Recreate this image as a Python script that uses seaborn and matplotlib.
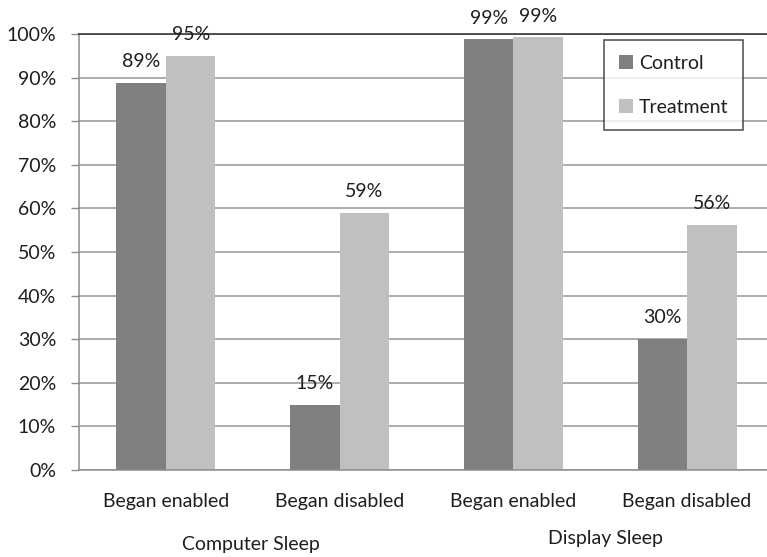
import matplotlib
matplotlib.use("Agg")
import matplotlib.pyplot as plt
import pandas as pd
import seaborn as sns
from matplotlib.ticker import FixedLocator
from matplotlib.transforms import blended_transform_factory

# Power-setting outcomes by starting state and study arm (share of machines)
settings = ["Computer Sleep", "Computer Sleep", "Display Sleep", "Display Sleep"]
conditions = ["Began enabled", "Began disabled", "Began enabled", "Began disabled"]
arms = ["Control", "Treatment"]
control = [88.8, 15.0, 98.8, 30.1]
treatment = [95.0, 59.0, 99.2, 56.2]
y_ticks = [0, 10, 20, 30, 40, 50, 60, 70, 80, 90, 100]

slots = [f"{s} | {c}" for s, c in zip(settings, conditions)]
df = pd.DataFrame({
    "slot": slots * 2,
    "arm": [arms[0]] * 4 + [arms[1]] * 4,
    "share": control + treatment,
})

sns.set_style("white")
plt.rcParams["font.family"] = ["Lato", "DejaVu Sans"]
text_color = "#1e1e1e"
axis_gray = "#8c8c8c"
fs = 14

fig = plt.figure(figsize=(7.67, 5.57), dpi=100)
ax = fig.add_axes([79 / 767, 87 / 557, (774 - 79) / 767, 436 / 557])

sns.barplot(data=df, x="slot", y="share", hue="arm", order=slots,
            hue_order=arms, palette=["#808080", "#c0c0c0"], saturation=1,
            width=0.57, gap=0, linewidth=0, ax=ax)

for cont in ax.containers:
    vals = cont.datavalues
    ax.bar_label(cont, labels=[f"{v:.0f}%" for v in vals], padding=9,
                 fontsize=fs, color=text_color)

ax.set_ylim(0, 100)
ax.set_xlim(-0.5, 3.5)
ax.set_yticks(y_ticks)
ax.set_yticklabels([f"{v}%" for v in y_ticks], fontsize=fs, color=text_color)
ax.set_xticks(range(4))
ax.set_xticklabels(conditions, fontsize=fs, color=text_color)
ax.xaxis.set_minor_locator(FixedLocator([-0.5, 0.5, 1.5, 2.5, 3.5]))
ax.tick_params(axis="x", which="major", length=0, pad=16.5)
ax.tick_params(axis="x", which="minor", length=5, width=1, color=axis_gray,
               direction="out")
ax.tick_params(axis="y", which="major", length=6, width=1, color=axis_gray,
               direction="out", pad=10.5, left=True)
ax.set_xlabel("")
ax.set_ylabel("")

ax.yaxis.grid(True, color="#969696", linewidth=1.1)
ax.set_axisbelow(True)
for side in ("left", "bottom"):
    ax.spines[side].set_color(axis_gray)
    ax.spines[side].set_linewidth(1.1)
ax.spines["top"].set_color("#2a2a2a")
ax.spines["top"].set_linewidth(1.1)
ax.spines["right"].set_visible(False)

trans = blended_transform_factory(ax.transData, ax.transAxes)
ax.text(0.49, -0.170, "Computer Sleep", transform=trans, ha="center",
        va="center", fontsize=fs, color=text_color)
ax.text(2.53, -0.158, "Display Sleep", transform=trans, ha="center",
        va="center", fontsize=fs, color=text_color)

leg = ax.legend(loc="upper left", bbox_to_anchor=(604 / 767, 1 - 40 / 557),
                bbox_transform=fig.transFigure, frameon=True, fontsize=fs,
                handlelength=0.75, handleheight=0.75, handletextpad=0.3,
                labelspacing=1.4, borderpad=0.75, fancybox=False,
                borderaxespad=0)
leg.get_frame().set_edgecolor("#1e1e1e")
leg.get_frame().set_linewidth(1.1)
for t in leg.get_texts():
    t.set_color(text_color)

fig.savefig("out.png", dpi=100)
